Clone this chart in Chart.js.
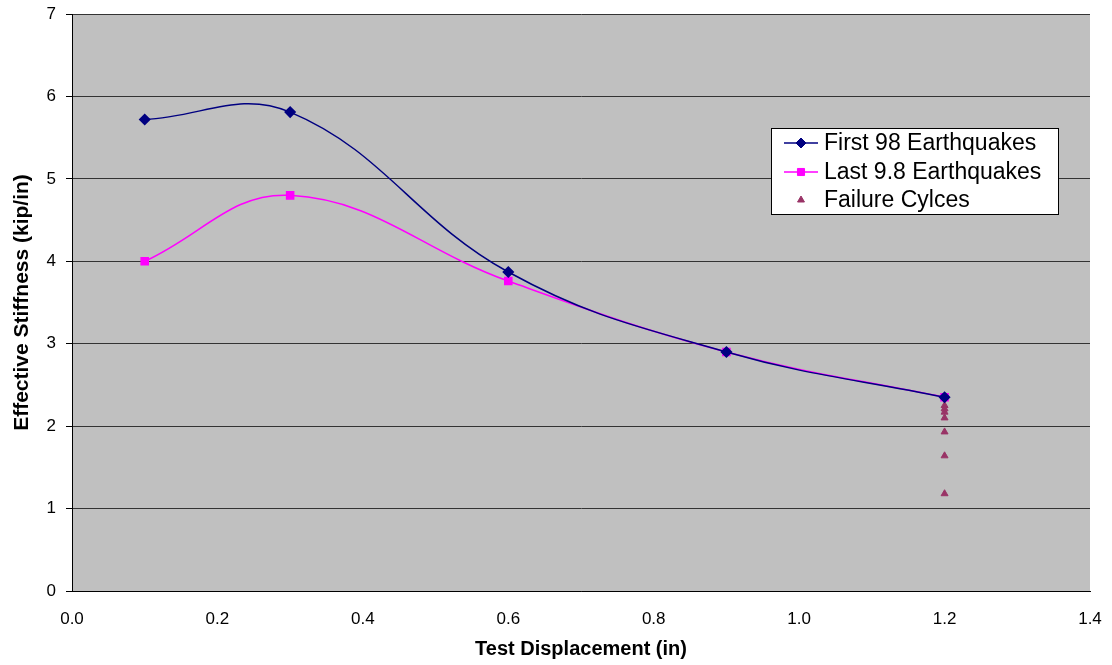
<!DOCTYPE html>
<html lang="en">
<head>
    <meta charset="UTF-8">
    <title>Effective Stiffness</title>
    <script src="https://cdn.jsdelivr.net/npm/chart.js"></script>
    <style>
        html, body { margin: 0; padding: 0; background: #ffffff; }
        #wrap { width: 1112px; height: 665px; }
    </style>
</head>
<body>
    <div id="wrap"><canvas id="chart"></canvas></div>

    <script>
        // data
        const firstX = [0.1, 0.3, 0.6, 0.9, 1.2];
        const firstY = [5.72, 5.81, 3.87, 2.90, 2.35];
        const lastX = [0.1, 0.3, 0.6, 0.9, 1.2];
        const lastY = [4.00, 4.80, 3.76, 2.90, 2.35];
        const failX = [1.2, 1.2, 1.2, 1.2, 1.2, 1.2, 1.2];
        const failY = [2.25, 2.21, 2.17, 2.10, 1.93, 1.64, 1.18];
        const seriesNames = ['First 98 Earthquakes', 'Last 9.8 Earthquakes', 'Failure Cylces'];

        const toPoints = (xs, ys) => xs.map((x, i) => ({ x: x, y: ys[i] }));
        const fontFam = '"Liberation Sans", Arial, sans-serif';

        // grey plot background
        const plotBg = {
            id: 'plotBg',
            beforeDraw(chart) {
                const a = chart.chartArea;
                const ctx = chart.ctx;
                ctx.save();
                ctx.fillStyle = '#c0c0c0';
                ctx.fillRect(a.left, a.top, a.right - a.left, a.bottom - a.top);
                ctx.restore();
            }
        };

        // legend box inside the plot, like the original
        const boxLegend = {
            id: 'boxLegend',
            afterDraw(chart) {
                const ctx = chart.ctx;
                const left = 771, top = 128, w = 287, h = 86;
                ctx.save();
                ctx.fillStyle = '#ffffff';
                ctx.fillRect(left, top, w, h);
                ctx.strokeStyle = '#000000';
                ctx.lineWidth = 1;
                ctx.strokeRect(left + 0.5, top + 0.5, w, h);
                ctx.font = '23px ' + fontFam;
                ctx.textBaseline = 'middle';
                const rows = [143, 172, 200];
                chart.data.datasets.forEach((ds, i) => {
                    const y = rows[i];
                    if (ds.showLine) {
                        ctx.strokeStyle = ds.borderColor;
                        ctx.lineWidth = 1.5;
                        ctx.beginPath();
                        ctx.moveTo(784, y);
                        ctx.lineTo(818, y);
                        ctx.stroke();
                    }
                    ctx.fillStyle = ds.pointBackgroundColor;
                    ctx.strokeStyle = ds.pointBorderColor;
                    ctx.lineWidth = 1;
                    Chart.helpers.drawPoint(ctx, {
                        pointStyle: ds.pointStyle,
                        radius: ds.pointRadius,
                        borderWidth: 1,
                        rotation: 0
                    }, 801, y);
                    ctx.fillStyle = '#000000';
                    ctx.fillText(ds.label, 824, y + 1);
                });
                ctx.restore();
            }
        };

        const ctx = document.getElementById('chart').getContext('2d');
        const chart = new Chart(ctx, {
            type: 'scatter',
            data: {
                datasets: [{
                    label: seriesNames[0],
                    data: toPoints(firstX, firstY),
                    showLine: true,
                    borderColor: '#000080',
                    backgroundColor: '#000080',
                    pointBackgroundColor: '#000080',
                    pointBorderColor: '#000080',
                    borderWidth: 1.5,
                    pointStyle: 'rectRot',
                    pointRadius: 5,
                    tension: 0.4
                }, {
                    label: seriesNames[1],
                    data: toPoints(lastX, lastY),
                    showLine: true,
                    borderColor: '#ff00ff',
                    backgroundColor: '#ff00ff',
                    pointBackgroundColor: '#ff00ff',
                    pointBorderColor: '#ff00ff',
                    borderWidth: 1.5,
                    pointStyle: 'rect',
                    pointRadius: 5,
                    tension: 0.4
                }, {
                    label: seriesNames[2],
                    data: toPoints(failX, failY),
                    showLine: false,
                    borderColor: '#993366',
                    backgroundColor: '#993366',
                    pointBackgroundColor: '#993366',
                    pointBorderColor: '#993366',
                    pointStyle: 'triangle',
                    pointRadius: 4
                }]
            },
            options: {
                responsive: true,
                maintainAspectRatio: false,
                animation: false,
                layout: { padding: { top: 14, right: 22, left: 6, bottom: 0 } },
                plugins: {
                    legend: { display: false },
                    tooltip: { enabled: false }
                },
                scales: {
                    x: {
                        type: 'linear',
                        min: 0,
                        max: 1.4,
                        ticks: {
                            stepSize: 0.2,
                            color: '#000000',
                            font: { family: fontFam, size: 17 },
                            callback: v => v.toFixed(1),
                            padding: 13
                        },
                        grid: { display: false, drawTicks: true, tickLength: 5, tickColor: '#000000' },
                        border: { color: '#000000' },
                        title: {
                            display: true,
                            text: 'Test Displacement (in)',
                            color: '#000000',
                            font: { family: fontFam, size: 20, weight: 'bold' }
                        },
                        afterFit(scale) {
                            scale.height = 74;
                            scale.paddingLeft = 0;
                            scale.paddingRight = 0;
                        }
                    },
                    y: {
                        min: 0,
                        max: 7,
                        ticks: {
                            stepSize: 1,
                            color: '#000000',
                            font: { family: fontFam, size: 17 },
                            padding: 10
                        },
                        grid: { color: '#333333', tickColor: '#000000', tickLength: 6 },
                        border: { color: '#000000' },
                        title: {
                            display: true,
                            text: 'Effective Stiffness (kip/in)',
                            color: '#000000',
                            font: { family: fontFam, size: 21, weight: 'bold' }
                        },
                        afterFit(scale) {
                            scale.width = 66;
                            scale.paddingTop = 0;
                            scale.paddingBottom = 0;
                        }
                    }
                }
            },
            plugins: [plotBg, boxLegend]
        });
    </script>
</body>
</html>
